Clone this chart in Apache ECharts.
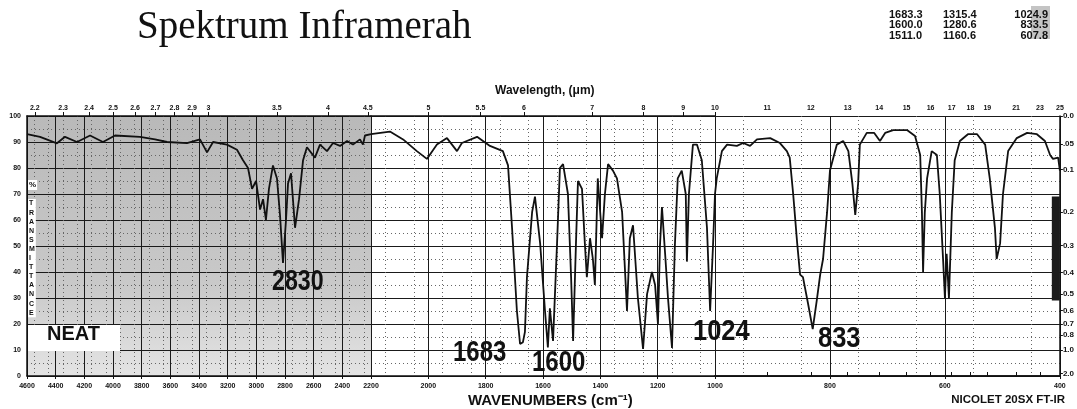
<!DOCTYPE html>
<html>
<head>
<meta charset="utf-8">
<title>Spektrum Inframerah</title>
<script src="https://cdn.jsdelivr.net/npm/echarts@6/dist/echarts.min.js"></script>
<style>
html, body { margin: 0; padding: 0; background: #fff; }
#chart { width: 1077px; height: 409px; }
</style>
</head>
<body>
<div id="chart"></div>
<script>
// spectrum: wavenumber (cm-1) -> % transmittance
var wavenumbers = [
  4600, 4509, 4391, 4335, 4251, 4160, 4070, 3986, 3812, 3707, 3623, 3484, 3393, 3344, 3302, 3205,
  3135, 3093, 3058, 3030, 3002, 2974, 2953, 2933, 2912, 2884, 2856, 2835, 2814, 2793, 2779, 2758,
  2730, 2702, 2674, 2647, 2591, 2556, 2507, 2465, 2416, 2367, 2326, 2277, 2256, 2242, 2200,
  2134, 2088, 2040, 2005, 1970, 1935, 1900, 1883, 1830, 1785, 1740, 1722, 1708, 1691, 1680, 1670,
  1663, 1656, 1638, 1628, 1610, 1593, 1583, 1576, 1565, 1551, 1541, 1530, 1513, 1502, 1495, 1485,
  1478, 1464, 1454, 1447, 1436, 1426, 1419, 1409, 1394, 1384, 1373, 1356, 1342, 1324, 1307, 1297,
  1286, 1269, 1251, 1237, 1220, 1209, 1199, 1192, 1185, 1174, 1164, 1150, 1140, 1130, 1116, 1102,
  1098, 1091, 1077, 1063, 1046, 1028, 1017, 1007, 1000,
  997, 988, 979, 962, 951, 939, 927, 904, 887, 875, 870, 864, 857, 852, 847, 838, 830, 823, 817,
  812, 805, 800, 788, 777, 768, 761, 756, 751, 748, 736, 723, 713, 704, 690, 666, 652, 643, 640,
  638, 635, 631, 623, 614, 609, 603, 600, 597, 593, 588, 583, 574, 560, 544, 530, 522, 513, 510,
  504, 499, 490, 475, 457, 440, 426, 417, 412, 403, 400
];
var transmittance = [
  93, 92, 89.5, 92, 90, 92.5, 90, 92.5, 92, 91, 90, 89.6, 91, 86, 90, 89,
  87, 83, 80, 72, 75, 64, 68, 60, 72, 81, 76, 62, 43.5, 60, 74, 78,
  57, 68, 83, 88, 84, 89, 86.5, 89.6, 88.5, 90.4, 89, 91, 89, 92.5, 93,
  94, 91, 86.5, 83.5, 89, 91.5, 86.5, 89.6, 92, 88.5, 86.5, 81, 57, 25, 12.3, 13,
  17, 38, 63, 69, 51, 25, 11, 26, 13.5, 51, 80, 81.5, 70, 38, 13.5, 51,
  75, 72, 51, 38, 53, 45, 35, 76, 53, 70, 81.5, 79, 76, 63, 25, 53,
  58, 30, 10.4, 31.5, 40, 35, 20, 50, 65, 47, 30, 10.8, 50, 76, 79, 70,
  44, 70, 89, 89, 83, 57, 25, 50, 70,
  76, 86.5, 89, 88.5, 89.6, 88.5, 91, 91.5, 89.6, 86.5, 84, 70, 51, 39, 38, 27.7, 18, 29, 39,
  45, 63, 79, 89, 90.4, 86.5, 74, 62, 74, 89, 93.5, 93.5, 90.4, 93.5, 94.6, 94.6, 92.3, 85, 63,
  40, 63, 76, 86.5, 85, 70, 44, 30, 47, 30, 63, 83, 90.4, 93, 93, 89, 76, 57, 45,
  51, 70, 86.5, 91.5, 93.5, 93, 90.4, 85, 83.5, 84, 79
];

// bottom wavenumber labels for the three chart-paper sections
var wnLabelsA = [4600, 4400, 4200, 4000, 3800, 3600, 3400, 3200, 3000, 2800, 2600, 2400, 2200];
var wnLabelsB = [2000, 1800, 1600, 1400, 1200, 1000];
var wnLabelsC = [800, 600, 400];
// top wavelength labels (um)
var wlLabelsA = [2.2, 2.3, 2.4, 2.5, 2.6, 2.7, 2.8, 2.9, 3, 3.5, 4, 4.5];
var wlLabelsB = [5, 5.5, 6, 7, 8, 9, 10];
var wlLabelsC = [11, 12, 13, 14, 15, 16, 17, 18, 19, 21, 23, 25];
// absorbance marks on the right edge
var absLabels = [0, 0.05, 0.1, 0.2, 0.3, 0.4, 0.5, 0.6, 0.7, 0.8, 1.0, 2.0];
// peak table, top right
var peakCol1 = ['1683.3', '1600.0', '1511.0'];
var peakCol2 = ['1315.4', '1280.6', '1160.6'];
var peakCol3 = ['1024.9', '833.5', '607.8'];

function segment(lo, hi) {
  var pts = [];
  for (var i = 0; i < wavenumbers.length; i++) {
    if (wavenumbers[i] >= lo && wavenumbers[i] <= hi) pts.push([wavenumbers[i], transmittance[i]]);
  }
  return pts;
}

var tickFont = { fontSize: 7, fontWeight: 'bold', color: '#111', fontFamily: 'Liberation Sans' };

function bottomAxis(grid, lo, hi, labels) {
  return {
    gridIndex: grid, type: 'value', min: lo, max: hi, inverse: true, interval: 100, position: 'bottom',
    axisLine: { show: true, lineStyle: { color: '#111', width: 1.5 } },
    axisTick: { show: true, customValues: labels, length: 3, lineStyle: { color: '#111' } },
    axisLabel: Object.assign({ customValues: labels, margin: 7, formatter: function (v) { return String(v); } }, tickFont),
    splitLine: { show: true, lineStyle: { color: '#1a1a1a', width: 1 } },
    minorTick: { show: false, splitNumber: 2 },
    minorSplitLine: { show: true, lineStyle: { color: '#666', width: 1, type: [1, 3] } }
  };
}

function topAxis(grid, lo, hi, wl) {
  var vals = wl.map(function (w) { return 10000 / w; });
  return {
    gridIndex: grid, type: 'value', min: lo, max: hi, inverse: true, position: 'top',
    axisLine: { show: true, lineStyle: { color: '#111', width: 1.5 } },
    axisTick: { show: true, customValues: vals, length: 4, lineStyle: { color: '#111' } },
    axisLabel: Object.assign({
      customValues: vals, margin: 4,
      formatter: function (v) { return String(Math.round(10000 / v * 10) / 10); }
    }, tickFont),
    splitLine: { show: false }
  };
}

function tAxis(grid, showLabels) {
  return {
    gridIndex: grid, type: 'value', min: 0, max: 100, interval: 10,
    axisLine: { show: showLabels, lineStyle: { color: '#111', width: 1.5 } },
    axisTick: { show: false },
    axisLabel: Object.assign({ show: showLabels, margin: 6 }, tickFont),
    splitLine: { show: true, lineStyle: { color: '#1a1a1a', width: 1 } },
    minorTick: { show: false, splitNumber: 2 },
    minorSplitLine: { show: true, lineStyle: { color: '#666', width: 1, type: [1, 3] } }
  };
}

var absVals = absLabels.map(function (a) { return 100 * Math.pow(10, -a); });

var lineStyle = { color: '#111', width: 1.8 };

var bigFont = 'bold 30px "Liberation Sans"';

var graphics = [
  { type: 'text', left: 137, top: 8, style: { text: 'Spektrum Inframerah', font: '39px "Liberation Serif"', fill: '#111' } },
  { type: 'rect', left: 1031, top: 6, shape: { width: 19, height: 33 }, style: { fill: '#c4c4c4' } },
  { type: 'text', left: 495, top: 85, style: { text: 'Wavelength, (\u03bcm)', font: 'bold 12px "Liberation Sans"', fill: '#111' } },
  { type: 'text', left: 468, top: 393, style: { text: 'WAVENUMBERS (cm\u207b\u00b9)', font: 'bold 15px "Liberation Sans"', fill: '#111' } },
  { type: 'text', right: 12, top: 394, style: { text: 'NICOLET 20SX FT-IR', font: 'bold 11.5px "Liberation Sans"', fill: '#111' } },
  { type: 'text', left: 28, top: 180, z: 20, style: { text: '%', font: 'bold 8px "Liberation Sans"', fill: '#111', backgroundColor: '#fff', padding: [1, 1] } },
  { type: 'text', left: 28, top: 199, z: 20, style: { text: 'TRANSMITTANCE'.split('').join('\n'), font: 'bold 7px "Liberation Sans"', lineHeight: 9.1, fill: '#111', backgroundColor: '#fff', padding: [0, 1] } },
  { type: 'rect', left: 28, top: 325, shape: { width: 92, height: 26 }, z: 20, style: { fill: '#fff' } },
  { type: 'text', left: 47, top: 324, z: 21, style: { text: 'NEAT', font: 'bold 20px "Liberation Sans"', fill: '#111' } },
  { type: 'text', x: 272, y: 267, scaleX: 0.8, z: 21, style: { text: '2830', font: 'bold 29px "Liberation Sans"', fill: '#111' } },
  { type: 'text', x: 453, y: 338, scaleX: 0.8, z: 21, style: { text: '1683', font: bigFont, fill: '#111' } },
  { type: 'text', x: 532, y: 348, scaleX: 0.8, z: 21, style: { text: '1600', font: bigFont, fill: '#111' } },
  { type: 'text', x: 693, y: 317, scaleX: 0.85, z: 21, style: { text: '1024', font: bigFont, fill: '#111' } },
  { type: 'text', x: 818, y: 324, scaleX: 0.85, z: 21, style: { text: '833', font: bigFont, fill: '#111' } }
];
// peak table rows
[peakCol1, peakCol2, peakCol3].forEach(function (col, c) {
  col.forEach(function (txt, r) {
    var el = { type: 'text', top: 9 + r * 10.5, z: 5, style: { text: txt, font: 'bold 11px "Liberation Sans"', fill: '#111' } };
    if (c === 2) el.right = 29; else el.left = c === 0 ? 889 : 943;
    graphics.push(el);
  });
});

var option = {
  animation: false,
  backgroundColor: '#fff',
  textStyle: { fontFamily: 'Liberation Sans' },
  grid: [
    { left: 27, top: 116, width: 344, height: 260, show: true, borderWidth: 0,
      backgroundColor: new echarts.graphic.LinearGradient(0, 0, 0, 1, [
        { offset: 0, color: '#b9b9b9' }, { offset: 0.65, color: '#c9c9c9' }, { offset: 1, color: '#e4e4e4' }
      ]) },
    { left: 371, top: 116, width: 344, height: 260 },
    { left: 715, top: 116, width: 347, height: 260 }
  ],
  xAxis: [
    bottomAxis(0, 2200, 4600, wnLabelsA), topAxis(0, 2200, 4600, wlLabelsA),
    bottomAxis(1, 1000, 2200, wnLabelsB), topAxis(1, 1000, 2200, wlLabelsB),
    bottomAxis(2, 400, 1000, wnLabelsC), topAxis(2, 400, 1000, wlLabelsC)
  ],
  yAxis: [
    tAxis(0, true), tAxis(1, false), tAxis(2, false),
    {
      gridIndex: 2, type: 'value', min: 0, max: 100, position: 'right',
      axisLine: { show: true, lineStyle: { color: '#111', width: 1.5 } },
      axisTick: { show: true, customValues: absVals, length: 3, lineStyle: { color: '#111' } },
      axisLabel: {
        customValues: absVals, margin: 3, fontSize: 8, fontWeight: 'bold', color: '#111',
        formatter: function (v) {
          var a = Math.round(-Math.log10(v / 100) * 100) / 100;
          if (a === 0) return '0.0';
          if (a === 0.05) return '.05';
          return a.toFixed(1);
        }
      },
      splitLine: { show: false }
    }
  ],
  series: [
    { type: 'line', xAxisIndex: 0, yAxisIndex: 0, data: segment(2200, 4600), showSymbol: false, lineStyle: lineStyle, z: 5 },
    { type: 'line', xAxisIndex: 2, yAxisIndex: 1, data: segment(1000, 2200), showSymbol: false, lineStyle: lineStyle, z: 5 },
    { type: 'line', xAxisIndex: 4, yAxisIndex: 2, data: segment(400, 1000), showSymbol: false, lineStyle: lineStyle, z: 5,
      markArea: { silent: true, itemStyle: { color: '#1c1c1c' }, data: [[{ xAxis: 414, yAxis: 29 }, { xAxis: 400, yAxis: 69 }]] } }
  ],
  graphic: graphics
};

var myChart = echarts.init(document.getElementById('chart'));
myChart.setOption(option);
</script>
</body>
</html>
